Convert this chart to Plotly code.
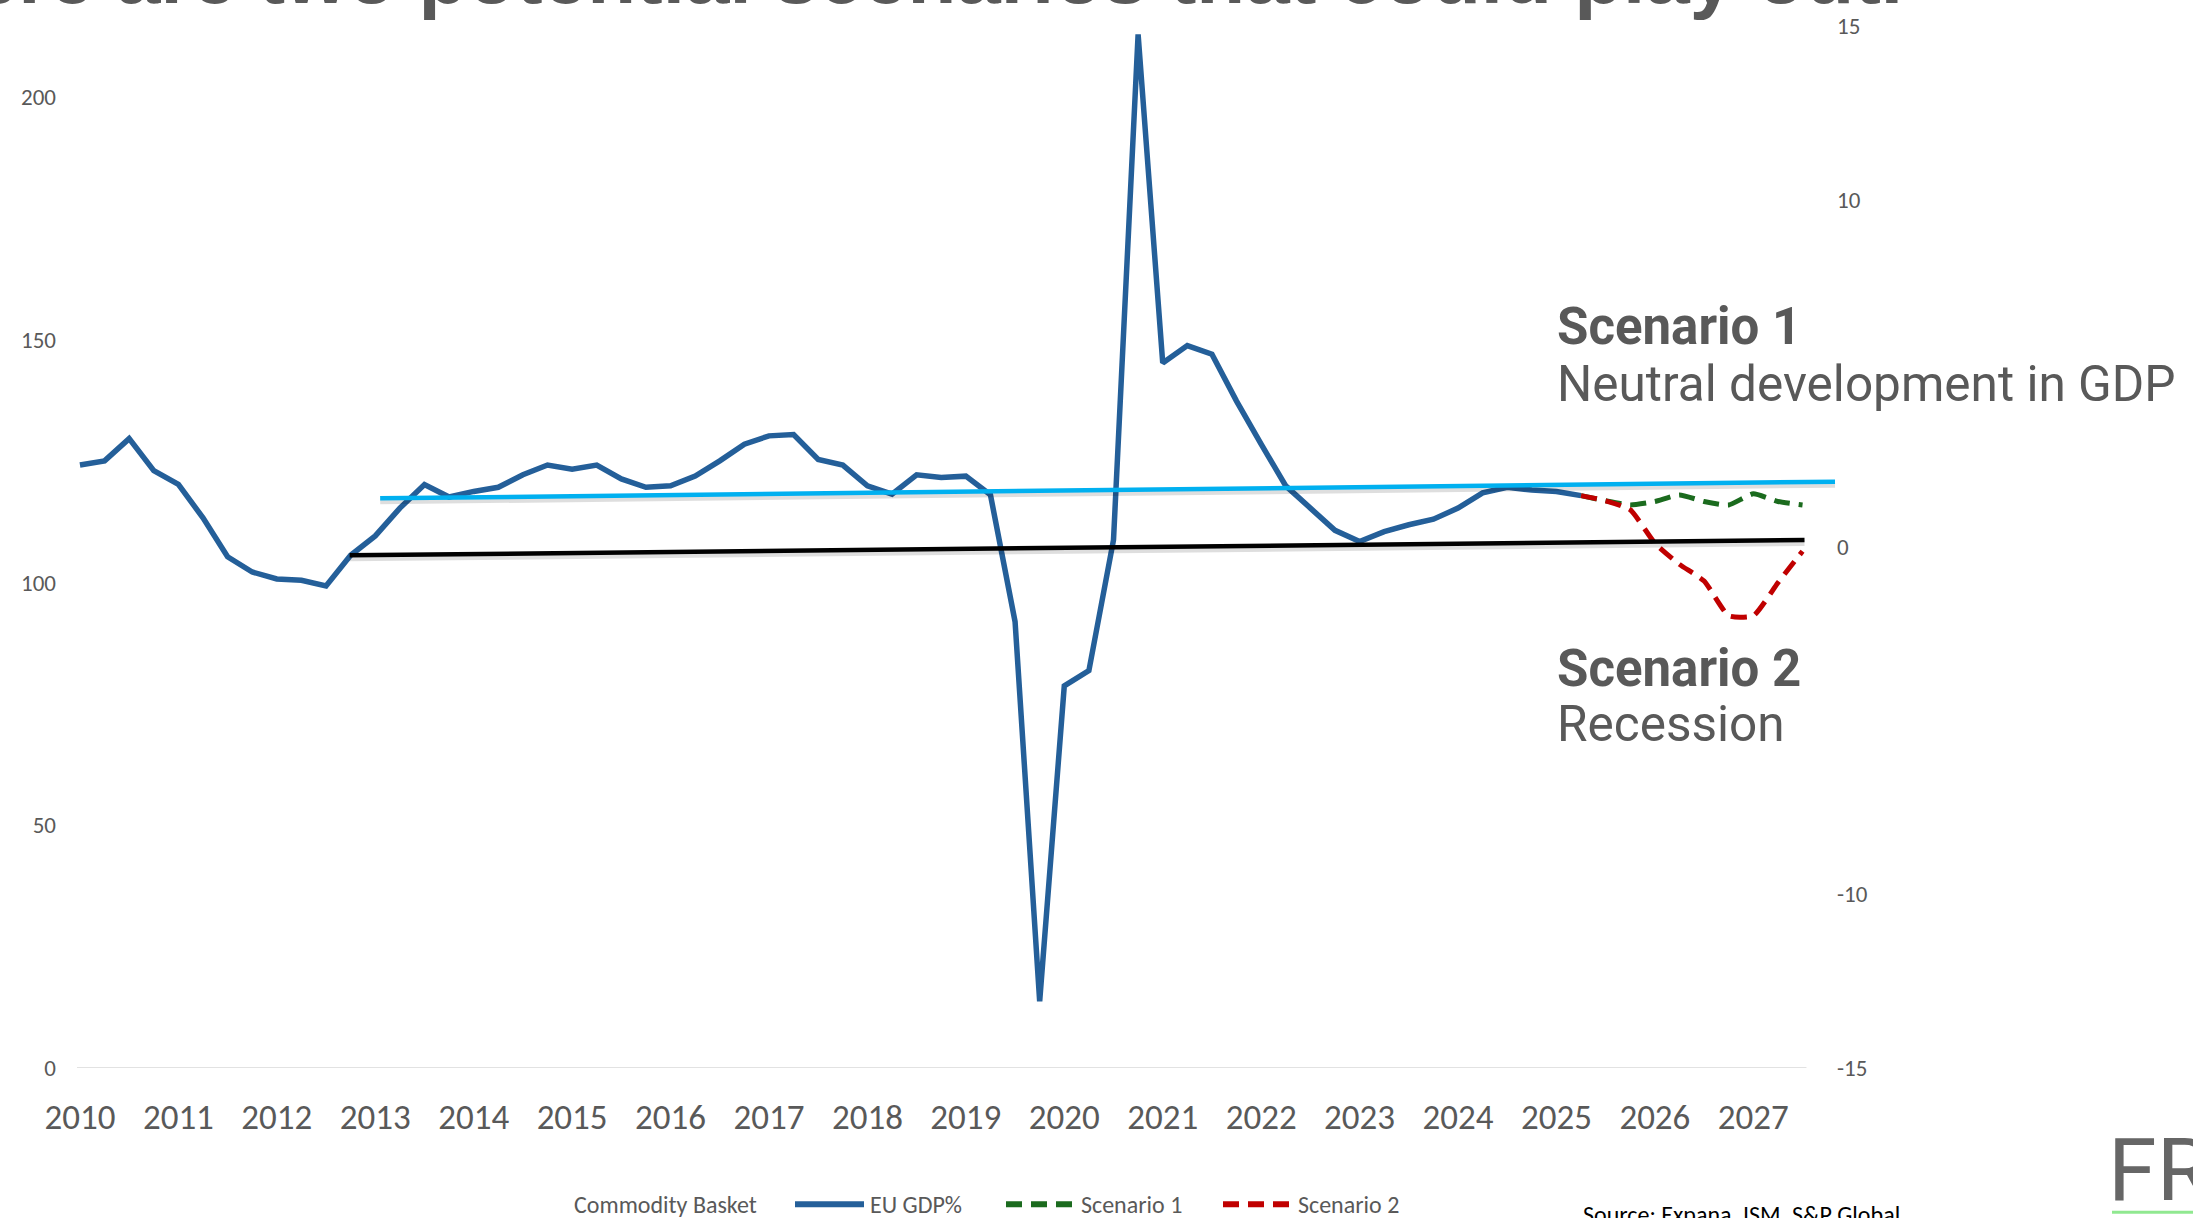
import plotly.graph_objects as go

# quarterly positions 2010 Q1 .. 2027 Q3
QUARTERS = [2010 + i / 4 for i in range(71)]
YEARS = list(range(2010, 2028))

SERIES_NAMES = ['Commodity Basket', 'EU GDP%', 'Scenario 1', 'Scenario 2']

# EU GDP % (right axis), 2010 Q1 .. 2025 Q2
EU_GDP = [2.36, 2.48, 3.12, 2.20, 1.80, 0.84, -0.28, -0.72, -0.92, -0.96,
          -1.12, -0.24, 0.32, 1.12, 1.80, 1.44, 1.60, 1.72, 2.08, 2.36,
          2.24, 2.36, 1.96, 1.72, 1.76, 2.04, 2.48, 2.96, 3.20, 3.24,
          2.52, 2.36, 1.76, 1.52, 2.08, 2.00, 2.04, 1.50, -2.15, -13.08,
          -4.00, -3.56, 0.20, 14.76, 5.30, 5.80, 5.55, 4.20, 2.96, 1.76,
          1.12, 0.48, 0.16, 0.44, 0.64, 0.80, 1.12, 1.56, 1.72, 1.64,
          1.60, 1.48]

# forecasts, 2025 Q2 .. 2027 Q3
SCENARIO_1 = [1.48, 1.33, 1.21, 1.31, 1.50, 1.31, 1.21, 1.53, 1.31, 1.21]
SCENARIO_2 = [1.48, 1.33, 1.07, 0.11, -0.50, -0.98, -1.98, -1.98, -1.03, -0.12]

# hand-drawn trend lines
TREND_UPPER_X = [2013.05, 2027.83]
TREND_UPPER_Y = [1.40, 1.88]
TREND_LOWER_X = [2012.74, 2027.52]
TREND_LOWER_Y = [-0.24, 0.20]

LEFT_TICKS = [0, 50, 100, 150, 200]
RIGHT_TICKS = [-15, -10, 0, 10, 15]

COLORS = {'gdp': '#245F99', 'scen1': '#1B6B1E', 'scen2': '#C00000',
          'upper': '#00B0F0', 'lower': '#000000'}
GREY = '#595959'
TICK_FONT = 'Carlito, Lato, sans-serif'
NOTE_FONT = 'Roboto, sans-serif'

# plot area in pixels
L, R, T, B = 77, 1836, 20, 1068
W, H = 2193, 1218


def px(x):
    return (x - L) / (R - L)


def py(y):
    return (B - y) / (B - T)


fig = go.Figure()

gdp_x = QUARTERS[:len(EU_GDP)]
fc_x = QUARTERS[len(EU_GDP) - 1:len(EU_GDP) - 1 + len(SCENARIO_1)]

fig.add_trace(go.Scatter(x=gdp_x, y=EU_GDP, name='EU GDP%', yaxis='y2', mode='lines',
                         line=dict(color=COLORS['gdp'], width=5.5)))
fig.add_trace(go.Scatter(x=fc_x, y=SCENARIO_1, name='Scenario 1', yaxis='y2', mode='lines',
                         line=dict(color=COLORS['scen1'], width=5, dash='16px,9px',
                                   shape='spline', smoothing=0.5)))
fig.add_trace(go.Scatter(x=fc_x, y=SCENARIO_2, name='Scenario 2', yaxis='y2', mode='lines',
                         line=dict(color=COLORS['scen2'], width=5, dash='16px,9px',
                                   shape='spline', smoothing=0.5)))

# trend lines with a soft shadow
shadow = 3 / ((B - T) / 30)
for tx, ty, c in [(TREND_UPPER_X, TREND_UPPER_Y, COLORS['upper']),
                  (TREND_LOWER_X, TREND_LOWER_Y, COLORS['lower'])]:
    fig.add_trace(go.Scatter(x=tx, y=[v - shadow for v in ty], yaxis='y2', mode='lines',
                             line=dict(color='rgba(0,0,0,0.13)', width=6), hoverinfo='skip'))
    fig.add_trace(go.Scatter(x=tx, y=ty, yaxis='y2', mode='lines',
                             line=dict(color=c, width=4.5), hoverinfo='skip'))

# bottom axis line
fig.add_shape(type='line', xref='x', yref='y', x0=2009.97, x1=2027.54, y0=0, y1=0,
              line=dict(color='#D9D9D9', width=1.5), layer='below')

annotations = []

# title, cut off by the top edge of the slide
annotations.append(dict(text='<b>There are two potential scenarios that could play out.</b>',
                        xref='paper', yref='paper', x=px(1905), y=py(-31),
                        xanchor='right', yanchor='middle', showarrow=False,
                        font=dict(family='Liberation Sans, Arial, sans-serif', size=80, color=GREY)))

notes = [('<b>Scenario 1</b>', 322, 51), ('Neutral development in GDP', 380, 49.5),
         ('<b>Scenario 2</b>', 666, 51), ('Recession', 722, 49.5)]
for txt, yc, size in notes:
    annotations.append(dict(text=txt, xref='paper', yref='paper', x=px(1555), y=py(yc),
                            xanchor='left', yanchor='middle', showarrow=False,
                            font=dict(family=NOTE_FONT, size=size, color=GREY)))

# legend drawn by hand (Excel style long symbols)
legend_y = 1205
legend_items = [(SERIES_NAMES[0], None, None, 572),
                (SERIES_NAMES[1], COLORS['gdp'], 'solid', 868),
                (SERIES_NAMES[2], COLORS['scen1'], '16px,9px', 1079),
                (SERIES_NAMES[3], COLORS['scen2'], '16px,9px', 1296)]
for name, color, dash, x_text in legend_items:
    if color:
        fig.add_shape(type='line', xref='paper', yref='paper',
                      x0=px(x_text - 73), x1=px(x_text - 4), y0=py(legend_y), y1=py(legend_y),
                      line=dict(color=color, width=6, dash=dash))
    annotations.append(dict(text=name, xref='paper', yref='paper', x=px(x_text), y=py(legend_y),
                            xanchor='left', yanchor='middle', showarrow=False,
                            font=dict(family=TICK_FONT, size=24, color=GREY)))

annotations.append(dict(text='Source: Expana, ISM, S&P Global', xref='paper', yref='paper',
                        x=px(1581), y=py(1199), xanchor='left', yanchor='top', showarrow=False,
                        font=dict(family=TICK_FONT, size=24, color='#000000')))

# logo fragment in the corner
annotations.append(dict(text='FR', xref='paper', yref='paper', x=px(2106), y=py(1116),
                        xanchor='left', yanchor='top', showarrow=False,
                        font=dict(family='Roboto, sans-serif', size=88, color='#666666')))
fig.add_shape(type='line', xref='paper', yref='paper', x0=px(2112), x1=px(2200),
              y0=py(1213), y1=py(1213), line=dict(color='#90E890', width=3))

fig.update_layout(
    width=W, height=H,
    margin=dict(l=L, r=W - R, t=T, b=H - B),
    paper_bgcolor='white',
    plot_bgcolor='white',
    showlegend=False,
    annotations=annotations,
    xaxis=dict(range=[2009.97, 2027.84], tickvals=YEARS, ticktext=[str(y) for y in YEARS],
               showgrid=False, zeroline=False, showline=False, ticks='',
               tickfont=dict(family=TICK_FONT, size=35, color=GREY), ticklabelstandoff=25),
    yaxis=dict(range=[0, 214.6], tickvals=LEFT_TICKS, showgrid=False, zeroline=False,
               showline=False, ticks='', tickfont=dict(family=TICK_FONT, size=23, color=GREY),
               ticklabelstandoff=20),
    yaxis2=dict(range=[-15, 15], tickvals=RIGHT_TICKS, ticktext=[str(v) for v in RIGHT_TICKS],
                overlaying='y', side='right',
                showgrid=False, zeroline=False, showline=False, ticks='',
                tickfont=dict(family=TICK_FONT, size=23, color=GREY)),
)

fig.write_html('out.html', config={'displayModeBar': False},
               post_script="document.body.style.margin='0';document.body.style.overflow='hidden';")
